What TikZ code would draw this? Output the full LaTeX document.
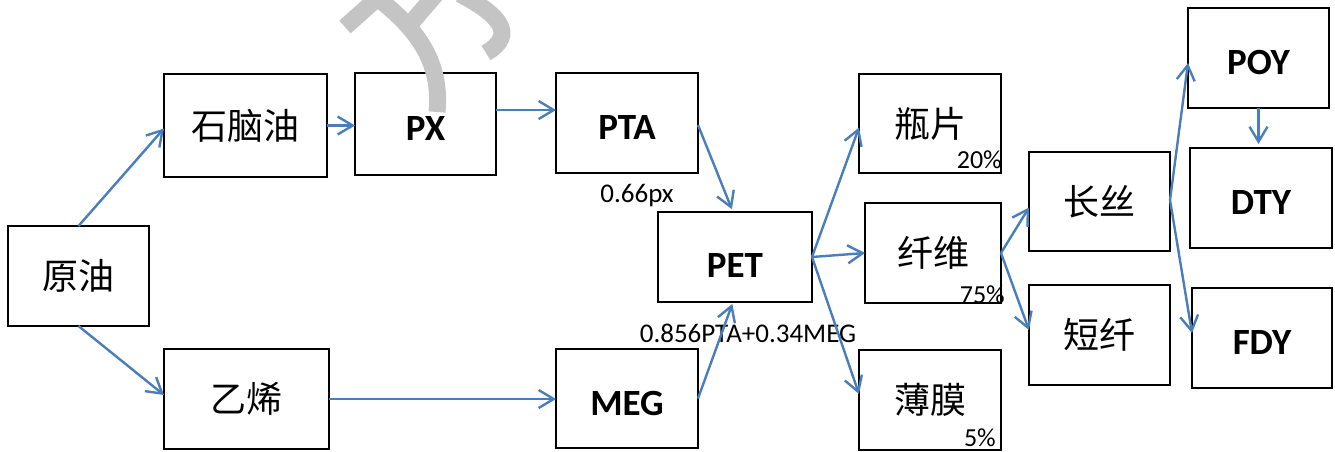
\documentclass[tikz,border=0pt]{standalone}
\usepackage{fontspec}
\setmainfont{Carlito}
\newfontfamily\cjk{Noto Sans CJK SC}
\usetikzlibrary{arrows.meta}
\definecolor{flowblue}{RGB}{74,126,187}
\definecolor{markgray}{RGB}{196,196,196}
\tikzset{
  box/.style={draw=black, line width=2pt, rectangle, inner sep=0pt, outer sep=0pt},
  cnbox/.style={box, font=\cjk\fontsize{36}{40}\selectfont},
  enbox/.style={box, font=\bfseries\fontsize{37}{40}\selectfont,
    text height=33pt, text depth=0pt},
  note/.style={inner sep=0pt, font=\fontsize{27}{30}\selectfont},
  pct/.style={inner sep=0pt, anchor=east, font=\fontsize{26}{28}\selectfont},
  flow/.style={draw=flowblue, line width=2.4pt,
    -{Straight Barb[length=15pt,width=18pt,line width=2.4pt]}},
  brush/.style={draw=markgray, line width=17pt}
}
\begin{document}
\begin{tikzpicture}[x=1pt, y=-1pt]
\useasboundingbox (0,0) rectangle (1335,451);

% boxes
\node[cnbox, minimum width=141pt, minimum height=100pt] (yy)  at (78.5,276)   {原油};
\node[cnbox, minimum width=163pt, minimum height=103pt] (snd) at (245.5,125.5) {石脑油};
\node[cnbox, minimum width=165pt, minimum height=100pt] (yx)  at (246.5,399)  {乙烯};
\node[enbox, minimum width=141pt, minimum height=102pt] (px)  at (425.5,124)  {PX};
\node[enbox, minimum width=142pt, minimum height=100pt] (pta) at (627,123)    {PTA};
\node[enbox, minimum width=142pt, minimum height=99pt]  (meg) at (627,398.5)  {MEG};
\node[enbox, minimum width=154pt, minimum height=90pt, text height=40pt] (pet) at (735,257) {PET};
\node[cnbox, minimum width=142pt, minimum height=99pt]  (pp)  at (930,123.5)  {瓶片};
\node[cnbox, minimum width=136pt, minimum height=100pt] (xw)  at (933,253)    {纤维};
\node[cnbox, minimum width=142pt, minimum height=100pt] (bm)  at (930,400)    {薄膜};
\node[cnbox, minimum width=141pt, minimum height=99pt]  (cs)  at (1099.5,201.5) {长丝};
\node[cnbox, minimum width=141pt, minimum height=100pt] (dx)  at (1099.5,335) {短纤};
\node[enbox, minimum width=141pt, minimum height=100pt] (poy) at (1258.5,58)  {POY};
\node[enbox, minimum width=142pt, minimum height=100pt] (dty) at (1261,198)   {DTY};
\node[enbox, minimum width=140pt, minimum height=100pt] (fdy) at (1262,338)   {FDY};

% ratio notes
\node[note] (r1) at (637,196) {0.66px};
\node[note] (r2) at (748,333) {0.856PTA+0.34MEG};
\node[pct] (p1) at (1002,160) {20\%};
\node[pct] (p2) at (1005,295) {75\%};
\node[pct] (p3) at (996,438)  {5\%};

% flow connectors
\draw[flow] (yy.north) -- ([yshift=-3pt]snd.west);
\draw[flow] (yy.south) -- ([yshift=4pt]yx.west);
\draw[flow] (snd.east) -- (snd.east -| px.west);
\coordinate (pxout) at ([yshift=14pt]px.east);
\draw[flow] (pxout) -- (pxout -| pta.west);
\draw[flow] (yx.east) -- (yx.east -| meg.west);
\draw[flow, shorten >=3pt] ([yshift=-2pt]pta.east) -- ([xshift=-2pt]pet.north);
\draw[flow, shorten >=2pt] (meg.east) -- ([xshift=-2pt]pet.south);
\draw[flow] (pet.east) -- ([yshift=-4pt]pp.west);
\draw[flow] (pet.east) -- (xw.west);
\draw[flow] (pet.east) -- ([yshift=6pt]bm.west);
\draw[flow] (xw.east) -- ([yshift=-6pt]cs.west);
\draw[flow] (xw.east) -- ([yshift=5pt]dx.west);
\coordinate (csout) at ([yshift=1.5pt]cs.east);
\draw[flow] (csout) -- ([yshift=-5pt]poy.west);
\draw[flow] (csout) -- ([yshift=5pt]fdy.west);
\draw[flow, shorten >=4pt] (poy.south) -- (poy.south |- dty.north);

% grey brush strokes along the top edge
\draw[brush] (345,27) -- (382,-6);
\draw[brush] (372,-6) .. controls (415,26) and (442,60) .. (437,112);
\draw[brush] (412,22) -- (436,-6);
\draw[brush] (460,-6) .. controls (498,14) and (518,34) .. (486,53);
\end{tikzpicture}
\end{document}
